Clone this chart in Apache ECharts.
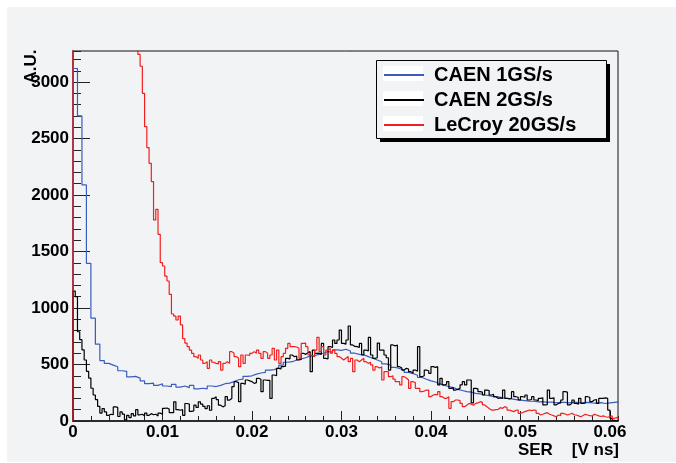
<!DOCTYPE html>
<html>
<head>
<meta charset="utf-8">
<script src="https://cdn.jsdelivr.net/npm/echarts@6/dist/echarts.min.js"></script>
<style>
  html, body { margin: 0; padding: 0; background: #fff; }
  #chart { width: 676px; height: 463px; }
</style>
</head>
<body>
<div id="chart"></div>
<script>
// histogram names, bin widths and tick labels
const seriesNames = ['CAEN 1GS/s', 'CAEN 2GS/s', 'LeCroy 20GS/s'];
const binCaen1 = 0.0005;
const binCaen2 = 0.00025;
const binLecroy = 0.00025;
const xTickLabels = ['0', '0.01', '0.02', '0.03', '0.04', '0.05', '0.06'];
const yTickLabels = ['0', '500', '1000', '1500', '2000', '2500', '3000'];

// bin contents
const caen1 = [
  3120, 2700, 2090, 1395, 910, 680, 535, 510, 495, 480,
  445, 440, 390, 395, 380, 355, 330, 335, 315, 330,
  310, 305, 325, 300, 310, 295, 315, 285, 290, 285,
  310, 305, 315, 330, 335, 350, 365, 370, 395, 400,
  415, 425, 430, 450, 455, 470, 495, 520, 525, 540,
  550, 560, 575, 580, 590, 600, 615, 610, 630, 625,
  635, 620, 600, 590, 585, 570, 555, 540, 525, 505,
  495, 475, 465, 450, 430, 420, 405, 385, 370, 355,
  345, 330, 315, 305, 295, 280, 270, 260, 255, 245,
  240, 230, 225, 215, 215, 205, 200, 195, 190, 185,
  180, 175, 175, 170, 172, 165, 168, 160, 165, 165,
  160, 168, 162, 160, 165, 160, 158, 162, 155, 160,
  165, 170
];

const caen2 = [
  1150, 1100, 790, 720, 630, 540, 440, 380, 290, 230,
  190, 130, 70, 110, 80, 50, 60, 55, 125, 120,
  40, 80, 60, 10, 50, 30, 65, 45, 100, 55,
  60, 45, 70, 50, 65, 55, 60, 45, 70, 60,
  112, 115, 105, 74, 74, 170, 100, 95, 100, 50,
  155, 150, 85, 90, 140, 120, 170, 150, 130, 110,
  135, 95, 200, 215, 190, 140, 125, 135, 215, 185,
  200, 304, 348, 340, 171, 333, 325, 363, 355, 348,
  333, 340, 378, 370, 260, 363, 360, 360, 200, 407,
  400, 466, 460, 481, 485, 555, 550, 584, 569, 575,
  540, 545, 599, 590, 605, 614, 437, 628, 599, 600,
  590, 687, 555, 550, 658, 650, 717, 687, 717, 805,
  687, 680, 717, 841, 673, 660, 658, 650, 687, 584,
  628, 620, 740, 584, 555, 560, 690, 628, 628, 584,
  560, 451, 673, 665, 673, 481, 470, 451, 466, 460,
  437, 422, 451, 440, 658, 392, 400, 451, 445, 422,
  481, 475, 481, 319, 378, 319, 325, 348, 289, 295,
  274, 280, 289, 320, 348, 319, 363, 363, 160, 289,
  285, 260, 255, 230, 274, 270, 230, 235, 215, 201,
  205, 201, 274, 201, 195, 201, 260, 215, 210, 186,
  215, 210, 230, 186, 190, 215, 186, 180, 201, 205,
  142, 145, 274, 201, 205, 142, 156, 160, 186, 260,
  255, 142, 156, 186, 156, 150, 201, 156, 160, 215,
  210, 171, 186, 190, 156, 201, 201, 205, 200, 97,
  24, 5, 0, 0
];

const lecroy = [
  9000, 8600, 8200, 7900, 7500, 7200, 6900, 6600, 6300, 6000,
  5800, 5600, 5400, 5200, 5000, 4850, 4700, 4550, 4400, 4250,
  4100, 3980, 3860, 3750, 3640, 3540, 3450, 3370, 3300, 3245,
  3140, 2900, 2606, 2420, 2281, 2119, 1780, 1874, 1652, 1401,
  1372, 1283, 1239, 1121, 947, 929, 894, 929, 850, 730,
  690, 658, 628, 599, 569, 555, 584, 540, 510, 525,
  466, 540, 520, 510, 505, 525, 451, 510, 525, 510,
  614, 600, 570, 555, 481, 584, 510, 584, 580, 599,
  614, 599, 628, 599, 555, 614, 599, 555, 584, 643,
  540, 628, 510, 569, 599, 643, 687, 658, 658, 655,
  643, 555, 687, 690, 658, 584, 580, 569, 628, 740,
  614, 658, 584, 628, 643, 600, 628, 599, 570, 555,
  540, 555, 570, 525, 555, 437, 540, 525, 540, 555,
  525, 510, 520, 496, 451, 481, 470, 481, 363, 437,
  437, 392, 400, 370, 348, 348, 319, 392, 380, 363,
  289, 348, 340, 289, 289, 260, 265, 274, 274, 215,
  230, 235, 230, 260, 215, 201, 201, 215, 112, 171,
  186, 186, 180, 156, 127, 140, 156, 150, 140, 156,
  160, 171, 165, 142, 127, 110, 97, 97, 100, 102,
  118, 112, 127, 120, 97, 90, 83, 95, 97, 68,
  75, 83, 90, 97, 92, 97, 95, 68, 53, 60,
  68, 74, 60, 53, 45, 38, 53, 48, 68, 62,
  53, 60, 68, 55, 53, 45, 38, 48, 59, 53,
  48, 45, 59, 53, 45, 40, 45, 38, 33, 40,
  45, 24, 30, 20
];

const lineColors = ['#3a5cc0', '#000000', '#f02020'];
const FONT = '"Liberation Sans", Arial, sans-serif';

// left bin edges -> step outline (starts from zero like ROOT's HIST)
function histPoints(vals, w) {
  const pts = [[0, 0]];
  vals.forEach((v, i) => pts.push([i * w, v]));
  pts.push([vals.length * w, vals[vals.length - 1]]);
  return pts;
}

const chart = echarts.init(document.getElementById('chart'), null, { renderer: 'canvas' });

const labelStyle = { color: '#000', fontSize: 17, fontWeight: 'bold', fontFamily: FONT };

const histos = [caen1, caen2, lecroy];
const widths = [binCaen1, binCaen2, binLecroy];

chart.setOption({
  animation: false,
  backgroundColor: '#fff',
  grid: { left: 73, right: 58, top: 51, bottom: 42, show: true, borderColor: '#111', borderWidth: 1 },
  xAxis: [
    {
      type: 'value', min: 0, max: 0.0609, interval: 0.01, position: 'bottom',
      axisLine: { lineStyle: { color: '#111', width: 1.5 } },
      axisTick: { inside: true, length: 10, lineStyle: { color: '#222' } },
      splitLine: { show: false },
      axisLabel: Object.assign({
        margin: 3, showMaxLabel: false,
        formatter: v => {
          const i = Math.round(v / 0.01);
          return Math.abs(v - i * 0.01) < 1e-9 ? (xTickLabels[i] ?? '') : '';
        },
      }, labelStyle),
    },
    {
      type: 'value', min: 0, max: 0.0609, interval: 0.002, position: 'bottom',
      axisLine: { show: false },
      axisTick: { inside: true, length: 5, lineStyle: { color: '#222' } },
      axisLabel: { show: false },
      splitLine: { show: false },
    },
  ],
  yAxis: [
    {
      type: 'value', min: 0, max: 3275, interval: 500, position: 'left',
      axisLine: { lineStyle: { color: '#555', width: 2 } },
      axisTick: { inside: true, length: 17, lineStyle: { color: '#222' } },
      splitLine: { show: false },
      axisLabel: Object.assign({
        margin: 4, showMaxLabel: false,
        formatter: v => {
          const i = Math.round(v / 500);
          return Math.abs(v - i * 500) < 1e-6 ? (yTickLabels[i] ?? '') : '';
        },
      }, labelStyle),
    },
    {
      type: 'value', min: 0, max: 3275, interval: 100, position: 'left',
      axisLine: { show: false },
      axisTick: { inside: true, length: 8, lineStyle: { color: '#222' } },
      axisLabel: { show: false },
      splitLine: { show: false },
    },
  ],
  legend: {
    z: 30,
    orient: 'vertical', left: 383, top: 65, padding: 0,
    itemWidth: 40, itemHeight: 14, itemGap: 5,
    itemStyle: { opacity: 0 },
    data: seriesNames,
    textStyle: { color: '#000', fontSize: 20, fontWeight: 'bold', fontFamily: FONT, padding: [0, 0, 0, 5] },
  },
  graphic: [
    { type: 'rect', z: -10, silent: true, shape: { x: 7, y: 7, width: 669, height: 455 }, style: { fill: '#f2f3f5' } },
    // legend box with ROOT-like shadow
    { type: 'rect', z: 20, silent: true, shape: { x: 380, y: 64, width: 230, height: 78 }, style: { fill: '#000' } },
    { type: 'rect', z: 21, silent: true, shape: { x: 376.5, y: 60.5, width: 230, height: 78 }, style: { fill: '#f2f3f5', stroke: '#000', lineWidth: 1 } },
    { type: 'rect', z: 22, silent: true, shape: { x: 383, y: 66, width: 40, height: 15 }, style: { fill: '#fff' } },
    { type: 'rect', z: 22, silent: true, shape: { x: 383, y: 91, width: 40, height: 15 }, style: { fill: '#fff' } },
    { type: 'rect', z: 22, silent: true, shape: { x: 383, y: 116, width: 40, height: 15 }, style: { fill: '#fff' } },
    {
      type: 'text', z: 25, x: 31, y: 66.5, rotation: Math.PI / 2,
      style: { text: 'A.U.', font: 'bold 17px ' + FONT, fill: '#000', align: 'center', verticalAlign: 'middle' },
    },
    {
      type: 'text', z: 25, x: 619, y: 450,
      style: { text: 'SER    [V ns]', font: 'bold 17px ' + FONT, fill: '#000', align: 'right', verticalAlign: 'middle' },
    },
  ],
  series: histos.map((vals, k) => ({
    name: seriesNames[k],
    type: 'line',
    xAxisIndex: 0,
    yAxisIndex: 0,
    step: 'end',
    symbol: 'none',
    clip: true,
    lineStyle: { color: lineColors[k], width: 1.2 },
    itemStyle: { color: lineColors[k] },
    data: histPoints(vals, widths[k]),
  })),
});
</script>
</body>
</html>
